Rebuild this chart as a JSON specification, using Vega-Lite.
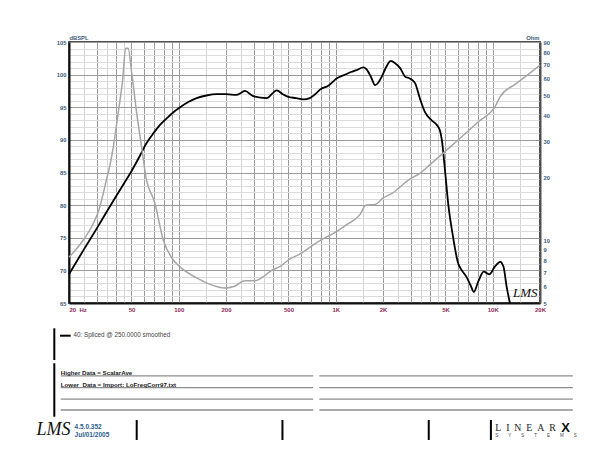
{
  "$schema": "https://vega.github.io/schema/vega-lite/v6.json",
  "width": 471,
  "height": 261,
  "autosize": {"type": "none"},
  "padding": {"left": 69, "top": 42, "right": 70, "bottom": 147},
  "background": "white",
  "config": {"font": "Liberation Sans", "view": {"stroke": "#505050", "strokeWidth": 2}},
  "datasets": {
    "spl": [
      {"freq": 20, "db": 69.4}, {"freq": 25, "db": 73.3}, {"freq": 30, "db": 76.4}, {"freq": 35, "db": 79.1},
      {"freq": 40, "db": 81.4}, {"freq": 45, "db": 83.4}, {"freq": 50, "db": 85.2}, {"freq": 56.7, "db": 87.6},
      {"freq": 62, "db": 89.4}, {"freq": 68.9, "db": 91.0}, {"freq": 76, "db": 92.3}, {"freq": 83.8, "db": 93.3},
      {"freq": 92, "db": 94.2}, {"freq": 102, "db": 95.0}, {"freq": 115, "db": 95.8}, {"freq": 130, "db": 96.4},
      {"freq": 150, "db": 96.8}, {"freq": 174, "db": 97.0}, {"freq": 200, "db": 97.0}, {"freq": 234, "db": 96.9},
      {"freq": 264, "db": 97.5}, {"freq": 298, "db": 96.7}, {"freq": 363, "db": 96.4}, {"freq": 421, "db": 97.6},
      {"freq": 460, "db": 97.0}, {"freq": 498, "db": 96.6}, {"freq": 560, "db": 96.4}, {"freq": 622, "db": 96.2},
      {"freq": 684, "db": 96.4}, {"freq": 740, "db": 97.0}, {"freq": 794, "db": 97.7}, {"freq": 897, "db": 98.3},
      {"freq": 1012, "db": 99.4}, {"freq": 1174, "db": 100.1}, {"freq": 1250, "db": 100.4}, {"freq": 1358, "db": 100.7},
      {"freq": 1500, "db": 101.1}, {"freq": 1560, "db": 100.9}, {"freq": 1680, "db": 99.6}, {"freq": 1780, "db": 98.4},
      {"freq": 1870, "db": 98.8}, {"freq": 1964, "db": 99.7}, {"freq": 2100, "db": 101.2}, {"freq": 2240, "db": 102.1},
      {"freq": 2400, "db": 101.7}, {"freq": 2572, "db": 101.0}, {"freq": 2760, "db": 99.7}, {"freq": 2960, "db": 99.4},
      {"freq": 3200, "db": 98.7}, {"freq": 3440, "db": 96.3}, {"freq": 3694, "db": 94.3}, {"freq": 4080, "db": 93.0},
      {"freq": 4400, "db": 92.3}, {"freq": 4600, "db": 91.5}, {"freq": 4740, "db": 90.0}, {"freq": 4980, "db": 85.0},
      {"freq": 5200, "db": 80.3}, {"freq": 5580, "db": 75.2}, {"freq": 6020, "db": 71.1}, {"freq": 6240, "db": 70.3},
      {"freq": 6800, "db": 69.0}, {"freq": 7200, "db": 67.8}, {"freq": 7580, "db": 66.7}, {"freq": 8090, "db": 68.3},
      {"freq": 8760, "db": 69.8}, {"freq": 9500, "db": 69.4}, {"freq": 10340, "db": 70.6}, {"freq": 11140, "db": 71.3},
      {"freq": 11700, "db": 70.6}, {"freq": 12260, "db": 67.5}, {"freq": 12860, "db": 65.0}
    ],
    "imp": [
      {"freq": 20, "ohm": 8.3}, {"freq": 22, "ohm": 9.0}, {"freq": 24.7, "ohm": 10.05}, {"freq": 28.6, "ohm": 12.1},
      {"freq": 31, "ohm": 14.0}, {"freq": 33.1, "ohm": 16.9}, {"freq": 34.8, "ohm": 19.9}, {"freq": 35.9, "ohm": 21.8},
      {"freq": 38.3, "ohm": 28.2}, {"freq": 41.1, "ohm": 40.8}, {"freq": 43.9, "ohm": 59}, {"freq": 45.9, "ohm": 84},
      {"freq": 47.6, "ohm": 84}, {"freq": 50.2, "ohm": 63.7}, {"freq": 54.0, "ohm": 40.8}, {"freq": 58.0, "ohm": 28.2},
      {"freq": 61.8, "ohm": 20.2}, {"freq": 70.5, "ohm": 15.1}, {"freq": 79.7, "ohm": 10.05}, {"freq": 92.4, "ohm": 8.05},
      {"freq": 101, "ohm": 7.5}, {"freq": 130, "ohm": 6.6}, {"freq": 174, "ohm": 6.0}, {"freq": 197, "ohm": 5.9},
      {"freq": 224, "ohm": 6.0}, {"freq": 264, "ohm": 6.4}, {"freq": 306, "ohm": 6.4}, {"freq": 346, "ohm": 6.7},
      {"freq": 393, "ohm": 7.2}, {"freq": 443, "ohm": 7.5}, {"freq": 499, "ohm": 8.05}, {"freq": 608, "ohm": 8.7},
      {"freq": 716, "ohm": 9.5}, {"freq": 834, "ohm": 10.2}, {"freq": 967, "ohm": 10.8}, {"freq": 1174, "ohm": 11.9},
      {"freq": 1426, "ohm": 13.3}, {"freq": 1560, "ohm": 14.8}, {"freq": 1780, "ohm": 14.9}, {"freq": 2008, "ohm": 16.0},
      {"freq": 2328, "ohm": 17.0}, {"freq": 2572, "ohm": 18.1}, {"freq": 2960, "ohm": 19.7}, {"freq": 3440, "ohm": 21.0},
      {"freq": 4000, "ohm": 23.2}, {"freq": 4840, "ohm": 26.3}, {"freq": 6020, "ohm": 30.4}, {"freq": 8000, "ohm": 36.9},
      {"freq": 10340, "ohm": 44}, {"freq": 11140, "ohm": 49}, {"freq": 14000, "ohm": 56.6}, {"freq": 17000, "ohm": 63.2},
      {"freq": 20000, "ohm": 69.7}
    ],
    "formLines": [
      {"u1": 5.6, "u2": 51.5, "v1": 43.9, "v2": 43.9}, {"u1": 52.6, "u2": 98.7, "v1": 43.9, "v2": 43.9},
      {"u1": 5.6, "u2": 51.5, "v1": 52.8, "v2": 52.8}, {"u1": 52.6, "u2": 98.7, "v1": 52.8, "v2": 52.8},
      {"u1": 5.6, "u2": 51.5, "v1": 61.4, "v2": 61.4}, {"u1": 52.6, "u2": 98.7, "v1": 61.4, "v2": 61.4},
      {"u1": 5.6, "u2": 51.5, "v1": 69.7, "v2": 69.7}, {"u1": 52.6, "u2": 98.7, "v1": 69.7, "v2": 69.7}
    ],
    "formBars": [
      {"u1": 4.42, "u2": 4.42, "v1": 7.8, "v2": 31.8},
      {"u1": 4.42, "u2": 4.42, "v1": 34.3, "v2": 74.8},
      {"u1": 5.45, "u2": 7.4, "v1": 13.4, "v2": 13.4},
      {"u1": 19.4, "u2": 19.4, "v1": 77.3, "v2": 92.4},
      {"u1": 45.9, "u2": 45.9, "v1": 77.3, "v2": 92.4},
      {"u1": 72.5, "u2": 72.5, "v1": 77.3, "v2": 92.4},
      {"u1": 83.8, "u2": 83.8, "v1": 77.3, "v2": 92.4}
    ],
    "formTexts": [
      {"block": "legend", "text": "40: Spliced @ 250.0000 smoothed", "u": 7.9, "v": 13.2},
      {"block": "note", "text": "Higher Data = ScalarAve", "u": 5.6, "v": 43.2},
      {"block": "note", "text": "Lower\u00a0 Data = Import: LoFreqCorr97.txt", "u": 5.6, "v": 52.1},
      {"block": "version", "text": "4.5.0.352", "u": 8.1, "v": 82.3},
      {"block": "version", "text": "Jul/01/2005", "u": 8.1, "v": 88.6},
      {"block": "logo", "text": "LMS", "u": 1.2, "v": 84.5},
      {"block": "watermark", "text": "LMS", "u": 87.8, "v": -18.9},
      {"block": "brand", "text": "L\u00a0\u00a0I\u00a0\u00a0N\u00a0\u00a0E\u00a0\u00a0A\u00a0\u00a0R", "u": 84.6, "v": 83},
      {"block": "brandx", "text": "X", "u": 96.6, "v": 83},
      {"block": "brandsub", "text": "S\u00a0\u00a0\u00a0\u00a0\u00a0\u00a0\u00a0\u00a0Y\u00a0\u00a0\u00a0\u00a0\u00a0\u00a0\u00a0\u00a0S\u00a0\u00a0\u00a0\u00a0\u00a0\u00a0\u00a0\u00a0T\u00a0\u00a0\u00a0\u00a0\u00a0\u00a0\u00a0\u00a0E\u00a0\u00a0\u00a0\u00a0\u00a0\u00a0\u00a0\u00a0M\u00a0\u00a0\u00a0\u00a0\u00a0\u00a0\u00a0\u00a0S", "u": 84.6, "v": 89.6}
    ]
  },
  "layer": [
    {
      "layer": [
        {
          "data": {"name": "spl"},
          "mark": {"type": "line", "color": "#000000", "strokeWidth": 1.8, "interpolate": "monotone"},
          "encoding": {
            "x": {
              "field": "freq", "type": "quantitative",
              "scale": {"type": "log", "domain": [20, 20000], "nice": false},
              "axis": {
                "title": null,
                "values": [20, 25, 30, 35, 40, 45, 50, 60, 70, 80, 90, 100, 150, 200, 250, 300, 350, 400, 450, 500, 600, 700, 800, 900, 1000, 1500, 2000, 2500, 3000, 3500, 4000, 4500, 5000, 6000, 7000, 8000, 9000, 10000, 15000, 20000],
                "labelExpr": "datum.value == 20 ? '20\u00a0\u00a0Hz' : datum.value == 50 ? '50' : datum.value == 100 ? '100' : datum.value == 200 ? '200' : datum.value == 500 ? '500' : datum.value == 1000 ? '1K' : datum.value == 2000 ? '2K' : datum.value == 5000 ? '5K' : datum.value == 10000 ? '10K' : datum.value == 20000 ? '20K' : ''",
                "labelAlign": {"condition": {"test": "datum.value == 20", "value": "left"}, "value": "center"},
                "labelFontSize": 6, "labelFontWeight": "bold", "labelColor": "#8c2a55",
                "labelPadding": 3, "labelFlush": false, "labelOverlap": false, "labelBound": false,
                "ticks": false, "domainColor": "#111111", "domainWidth": 2,
                "grid": true,
                "gridColor": {"condition": {"test": "indexof([25,35,45,150,250,350,450,1500,2500,3500,4500,15000], datum.value) >= 0", "value": "#d6d6d6"}, "value": "#9a9a9a"},
                "gridWidth": 1
              }
            },
            "y": {
              "field": "db", "type": "quantitative",
              "scale": {"domain": [65, 105], "nice": false, "zero": false},
              "axis": {
                "values": [65,66,67,68,69,70,71,72,73,74,75,76,77,78,79,80,81,82,83,84,85,86,87,88,89,90,91,92,93,94,95,96,97,98,99,100,101,102,103,104,105],
                "labelExpr": "datum.value % 5 == 0 ? datum.label : ''",
                "title": "dBSPL", "titleAngle": 0, "titleAlign": "left", "titleX": 0, "titleY": -3,
                "titleBaseline": "alphabetic", "titleFontSize": 5.8, "titleFontWeight": "bold", "titleColor": "#3b5a7a",
                "labelFontSize": 5.8, "labelFontWeight": "bold", "labelColor": "#3b5a7a",
                "labelPadding": 3, "labelFlush": false, "labelOverlap": false,
                "ticks": false, "domainColor": "#111111", "domainWidth": 2,
                "grid": true,
                "gridColor": {"condition": {"test": "datum.value % 5 == 0", "value": "#9a9a9a"}, "value": "#dcdcdc"},
                "gridWidth": 1
              }
            }
          }
        },
        {
          "data": {"name": "imp"},
          "mark": {"type": "line", "color": "#a6a6a6", "strokeWidth": 1.5, "interpolate": "monotone"},
          "encoding": {
            "x": {"field": "freq", "type": "quantitative", "scale": {"type": "log", "domain": [20, 20000], "nice": false}},
            "y": {
              "field": "ohm", "type": "quantitative",
              "scale": {"type": "log", "domain": [5, 90], "nice": false},
              "axis": {
                "orient": "right",
                "values": [5, 6, 7, 8, 9, 10, 20, 30, 40, 50, 60, 70, 80, 90],
                "grid": false, "ticks": false,
                "title": "Ohm", "titleAngle": 0, "titleAlign": "right", "titleX": -1, "titleY": -3,
                "titleBaseline": "alphabetic", "titleFontSize": 5.8, "titleFontWeight": "bold", "titleColor": "#3b5a7a",
                "labelFontSize": 5.8, "labelFontWeight": "bold", "labelColor": "#3b5a7a",
                "labelPadding": 3, "labelFlush": false, "labelOverlap": false,
                "domainColor": "#505050", "domainWidth": 2
              }
            }
          }
        }
      ],
      "resolve": {"scale": {"y": "independent"}}
    },
    {
      "layer": [
        {
          "data": {"name": "formLines"},
          "mark": {"type": "rule", "color": "#8c8c8c", "strokeWidth": 1.3},
          "encoding": {
            "x": {"field": "u1", "type": "quantitative", "scale": {"domain": [0, 100], "range": [-39, 511]}, "axis": null},
            "x2": {"field": "u2"},
            "y": {"field": "v1", "type": "quantitative", "scale": {"domain": [0, 100], "range": [276, 408]}, "axis": null},
            "y2": {"field": "v2"}
          }
        },
        {
          "data": {"name": "formBars"},
          "mark": {"type": "rule", "color": "#000000", "strokeWidth": 2},
          "encoding": {
            "x": {"field": "u1", "type": "quantitative", "scale": {"domain": [0, 100], "range": [-39, 511]}, "axis": null},
            "x2": {"field": "u2"},
            "y": {"field": "v1", "type": "quantitative", "scale": {"domain": [0, 100], "range": [276, 408]}, "axis": null},
            "y2": {"field": "v2"}
          }
        },
        {
          "data": {"name": "formTexts"},
          "transform": [{"filter": "datum.block == 'legend'"}],
          "mark": {"type": "text", "align": "left", "baseline": "middle", "fontSize": 6.3, "color": "#444444"},
          "encoding": {
            "x": {"field": "u", "type": "quantitative", "scale": {"domain": [0, 100], "range": [-39, 511]}, "axis": null},
            "y": {"field": "v", "type": "quantitative", "scale": {"domain": [0, 100], "range": [276, 408]}, "axis": null},
            "text": {"field": "text"}
          }
        },
        {
          "data": {"name": "formTexts"},
          "transform": [{"filter": "datum.block == 'note'"}],
          "mark": {"type": "text", "align": "left", "baseline": "alphabetic", "fontSize": 6.2, "fontWeight": "bold", "color": "#222222"},
          "encoding": {
            "x": {"field": "u", "type": "quantitative", "scale": {"domain": [0, 100], "range": [-39, 511]}, "axis": null},
            "y": {"field": "v", "type": "quantitative", "scale": {"domain": [0, 100], "range": [276, 408]}, "axis": null},
            "text": {"field": "text"}
          }
        },
        {
          "data": {"name": "formTexts"},
          "transform": [{"filter": "datum.block == 'version'"}],
          "mark": {"type": "text", "align": "left", "baseline": "middle", "fontSize": 6.5, "fontWeight": "bold", "color": "#2e6290"},
          "encoding": {
            "x": {"field": "u", "type": "quantitative", "scale": {"domain": [0, 100], "range": [-39, 511]}, "axis": null},
            "y": {"field": "v", "type": "quantitative", "scale": {"domain": [0, 100], "range": [276, 408]}, "axis": null},
            "text": {"field": "text"}
          }
        },
        {
          "data": {"name": "formTexts"},
          "transform": [{"filter": "datum.block == 'logo' || datum.block == 'watermark'"}],
          "mark": {"type": "text", "align": "left", "baseline": "middle", "font": "Liberation Serif", "fontStyle": "italic", "color": "#111111"},
          "encoding": {
            "x": {"field": "u", "type": "quantitative", "scale": {"domain": [0, 100], "range": [-39, 511]}, "axis": null},
            "y": {"field": "v", "type": "quantitative", "scale": {"domain": [0, 100], "range": [276, 408]}, "axis": null},
            "text": {"field": "text"},
            "size": {"condition": {"test": "datum.block == 'logo'", "value": 18}, "value": 13}
          }
        },
        {
          "data": {"name": "formTexts"},
          "transform": [{"filter": "datum.block == 'brand'"}],
          "mark": {"type": "text", "align": "left", "baseline": "middle", "font": "Liberation Serif", "fontSize": 9.8, "color": "#222222"},
          "encoding": {
            "x": {"field": "u", "type": "quantitative", "scale": {"domain": [0, 100], "range": [-39, 511]}, "axis": null},
            "y": {"field": "v", "type": "quantitative", "scale": {"domain": [0, 100], "range": [276, 408]}, "axis": null},
            "text": {"field": "text"}
          }
        },
        {
          "data": {"name": "formTexts"},
          "transform": [{"filter": "datum.block == 'brandx'"}],
          "mark": {"type": "text", "align": "left", "baseline": "middle", "fontSize": 13, "fontWeight": "bold", "color": "#111111"},
          "encoding": {
            "x": {"field": "u", "type": "quantitative", "scale": {"domain": [0, 100], "range": [-39, 511]}, "axis": null},
            "y": {"field": "v", "type": "quantitative", "scale": {"domain": [0, 100], "range": [276, 408]}, "axis": null},
            "text": {"field": "text"}
          }
        },
        {
          "data": {"name": "formTexts"},
          "transform": [{"filter": "datum.block == 'brandsub'"}],
          "mark": {"type": "text", "align": "left", "baseline": "middle", "fontSize": 4.5, "color": "#444444"},
          "encoding": {
            "x": {"field": "u", "type": "quantitative", "scale": {"domain": [0, 100], "range": [-39, 511]}, "axis": null},
            "y": {"field": "v", "type": "quantitative", "scale": {"domain": [0, 100], "range": [276, 408]}, "axis": null},
            "text": {"field": "text"}
          }
        }
      ]
    }
  ],
  "resolve": {"scale": {"x": "independent", "y": "independent"}}
}
